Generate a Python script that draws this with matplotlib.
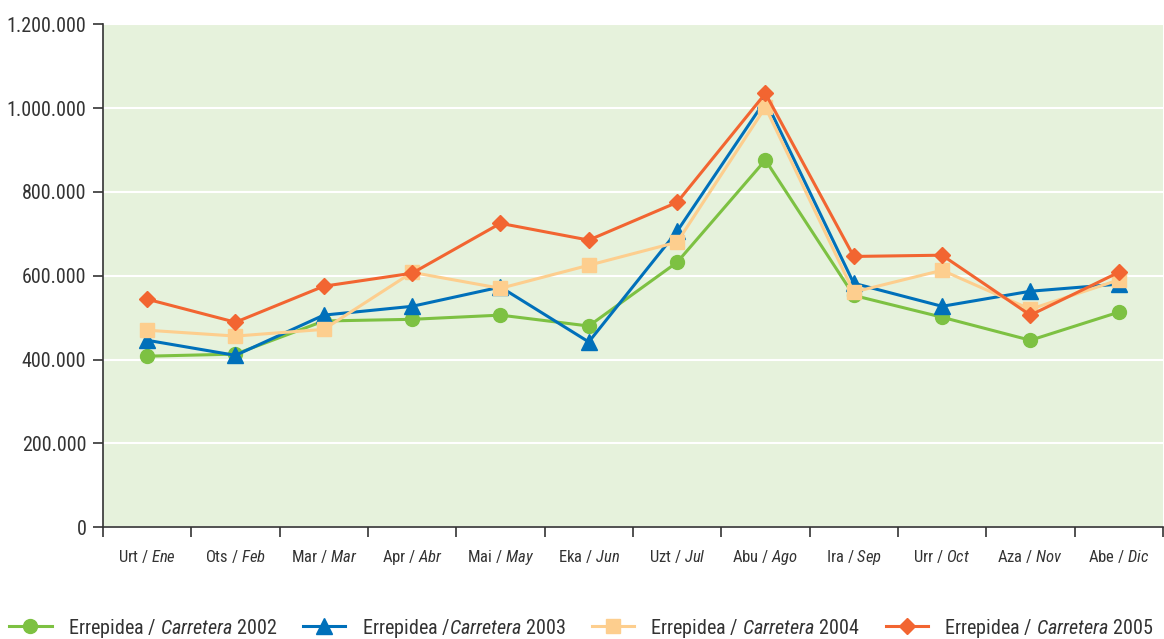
import numpy as np
import matplotlib as mpl
import matplotlib.pyplot as plt
from matplotlib.ticker import FuncFormatter, FixedLocator

months_eu = ['Urt', 'Ots', 'Mar', 'Apr', 'Mai', 'Eka', 'Uzt', 'Abu', 'Ira', 'Urr', 'Aza', 'Abe']
months_es = ['Ene', 'Feb', 'Mar', 'Abr', 'May', 'Jun', 'Jul', 'Ago', 'Sep', 'Oct', 'Nov', 'Dic']

v2002 = [408000, 413000, 492000, 496000, 506000, 480000, 632000, 876000, 553000, 501000, 446000, 513000]
v2003 = [446000, 410000, 506000, 527000, 573000, 442000, 706000, 1019000, 582000, 527000, 563000, 580000]
v2004 = [470000, 456000, 472000, 608000, 570000, 625000, 680000, 1002000, 561000, 613000, 520000, 590000]
v2005 = [544000, 489000, 575000, 606000, 725000, 685000, 775000, 1035000, 646000, 649000, 506000, 608000]

series = [
    (v2002, '#7DC142', 'o', 10, r'Errepidea / $\mathit{Carretera}$ 2002'),
    (v2003, '#0070BA', '^', 11, r'Errepidea /$\mathit{Carretera}$ 2003'),
    (v2004, '#FDCE8E', 's', 10, r'Errepidea / $\mathit{Carretera}$ 2004'),
    (v2005, '#F26531', 'D', 8, r'Errepidea / $\mathit{Carretera}$ 2005'),
]

fam = ['Roboto Condensed', 'DejaVu Sans']
plt.rcParams['font.family'] = fam
plt.rcParams['mathtext.fontset'] = 'custom'
plt.rcParams['mathtext.rm'] = 'Roboto Condensed'
plt.rcParams['mathtext.it'] = 'Roboto Condensed:italic'

fig = plt.figure(figsize=(11.64, 6.39), dpi=100)
ax = fig.add_axes([0.0885, 0.175, 0.9105, 0.787])
ax.set_facecolor('#E6F2DC')

x = np.arange(12)
for vals, col, mk, ms, lab in series:
    ax.plot(x, vals, color=col, marker=mk, markersize=ms, linewidth=2.2, label=lab, zorder=3)

ax.set_xlim(-0.5, 11.5)
ax.set_ylim(0, 1200000)
ax.set_yticks(np.arange(0, 1200001, 200000))
ax.yaxis.set_major_formatter(FuncFormatter(lambda v, p: f'{int(v):,}'.replace(',', '.')))
ax.grid(axis='y', color='white', linewidth=1.5, zorder=1)
ax.set_axisbelow(True)

ax.xaxis.set_major_locator(FixedLocator(np.arange(-0.5, 12, 1)))
ax.xaxis.set_minor_locator(FixedLocator(x))
ax.set_xticklabels([])
ax.set_xticklabels([f'{a} / $\\mathit{{{b}}}$' for a, b in zip(months_eu, months_es)], minor=True)
ax.tick_params(axis='x', which='major', direction='out', length=7, width=1.2, color='#333333')
ax.tick_params(axis='x', which='minor', length=0, pad=15, labelsize=12, labelcolor='#333333')
ax.tick_params(axis='y', direction='out', length=7, width=1.2, color='#333333', labelsize=14.5, labelcolor='#333333', pad=5)

for s in ['top', 'right']:
    ax.spines[s].set_visible(False)
for s in ['left', 'bottom']:
    ax.spines[s].set_color('#333333')
    ax.spines[s].set_linewidth(1.2)

fig.legend(loc='center', bbox_to_anchor=(0.4995, 1 - 628 / 639), ncol=4, frameon=False,
           fontsize=14.5, handlelength=2.1, columnspacing=1.3, handletextpad=0.8,
           labelcolor='#333333', borderpad=0, borderaxespad=0)

fig.savefig('out.png', dpi=100)
